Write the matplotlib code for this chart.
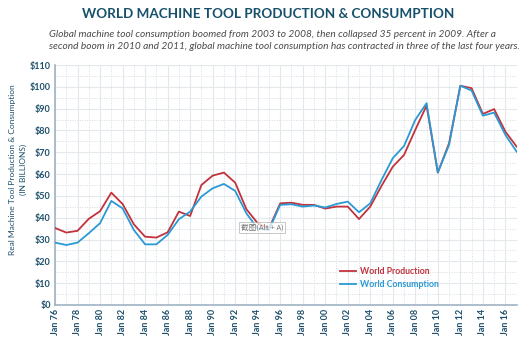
import matplotlib
matplotlib.use('Agg')
import matplotlib.pyplot as plt
import numpy as np

years = list(range(1976, 2018))
production = [35.3, 33.2, 34.0, 39.5, 43.0, 51.5, 46.3, 37.0, 31.3, 30.9,
              33.3, 42.8, 40.8, 55.0, 59.3, 60.7, 56.1, 43.9, 37.5, 35.0,
              46.6, 46.9, 45.9, 45.9, 44.2, 45.1, 45.1, 39.4, 45.1, 54.6,
              63.4, 68.8, 80.3, 91.4, 60.7, 74.2, 100.5, 99.4, 87.6, 89.8,
              79.5, 72.6]
consumption = [28.6, 27.5, 28.6, 32.9, 37.5, 47.7, 44.3, 34.4, 27.8, 27.8,
               32.1, 39.3, 42.8, 49.7, 53.5, 55.5, 52.3, 42.0, 35.0, 34.4,
               45.9, 46.2, 45.1, 45.6, 44.7, 46.3, 47.4, 42.5, 46.6, 57.3,
               67.3, 72.9, 84.9, 92.5, 60.7, 73.4, 100.5, 98.3, 86.8, 88.2,
               78.0, 70.3]
tick_years = list(range(1976, 2017, 2))
tick_labels = ['Jan %02d' % (y % 100) for y in tick_years]
y_ticks = list(range(0, 111, 10))

red = '#c1323c'
blue = '#2a9ad4'
navy = '#1d4f6b'

plt.rcParams['font.family'] = ['Lato', 'DejaVu Sans']

fig = plt.figure(figsize=(5.24, 3.37), dpi=100)
ax = fig.add_axes([0.105, 0.095, 0.882, 0.712])

ax.plot(years, production, color=red, linewidth=1.3, label='World Production', zorder=3)
ax.plot(years, consumption, color=blue, linewidth=1.3, label='World Consumption', zorder=3)

ax.set_xlim(1976, 2017.05)
ax.set_ylim(0, 110)
ax.set_xticks(tick_years)
ax.set_xticklabels(tick_labels, rotation=90, fontsize=6.5, fontweight='bold', color=navy)
ax.set_xticks(range(1977, 2017, 2), minor=True)
ax.set_yticks(y_ticks)
ax.set_yticklabels(['$%d' % v for v in y_ticks], fontsize=6.5, fontweight='bold', color=navy)
ax.set_yticks(range(5, 110, 10), minor=True)
ax.tick_params(which='both', length=0, pad=3)

ax.grid(which='major', color='#e3e8ec', linewidth=0.8, linestyle='-')
ax.grid(which='minor', color='#d5dde3', linewidth=0.7, linestyle=(0, (1, 1.5)))
ax.set_axisbelow(True)

for s in ['top', 'right']:
    ax.spines[s].set_visible(False)
for s in ['left', 'bottom']:
    ax.spines[s].set_color('#9fb3c4')
    ax.spines[s].set_linewidth(1.2)

ax.set_ylabel('Real Machine Tool Production & Consumption\n(IN BILLIONS)',
              fontsize=6, color=navy, linespacing=1.6)
ax.yaxis.set_label_coords(-0.06, 0.565)

leg = ax.legend(loc='lower left', bbox_to_anchor=(0.6, 0.035), frameon=False,
                fontsize=6.3, handlelength=1.8, handletextpad=0.5, labelspacing=0.45)
for txt, c in zip(leg.get_texts(), [red, blue]):
    txt.set_color(c)
    txt.set_fontweight('bold')

# screenshot tooltip overlay seen in the reference
ax.text(1994.4, 35.5, '截图(Alt + A)', fontsize=5.5, color='#777777',
        family=['Noto Sans CJK SC', 'DejaVu Sans'], ha='center', va='center', zorder=5,
        bbox=dict(boxstyle='square,pad=0.25', facecolor='white', edgecolor='#aaaaaa',
                  alpha=0.75, linewidth=0.6))

fig.text(0.512, 0.958, 'WORLD MACHINE TOOL PRODUCTION & CONSUMPTION',
         ha='center', va='center', fontsize=9.7, fontweight='bold', color='#17506a')
fig.text(0.094, 0.881, 'Global machine tool consumption boomed from 2003 to 2008, then collapsed 35 percent in 2009. After a\n'
         'second boom in 2010 and 2011, global machine tool consumption has contracted in three of the last four years.',
         ha='left', va='center', fontsize=7.25, style='italic', color='#4a4a4a', linespacing=1.45)

plt.savefig('out.png', dpi=100)
